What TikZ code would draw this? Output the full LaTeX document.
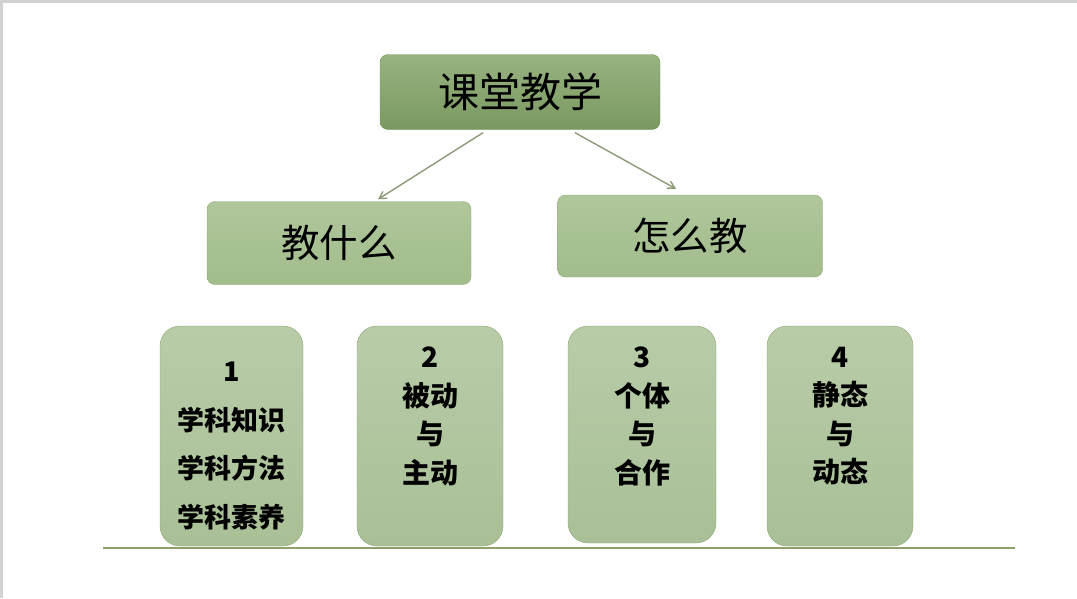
\documentclass[tikz,border=0pt]{standalone}
\usepackage{fontspec}
\newfontfamily\cjk{Noto Sans CJK SC}
\usetikzlibrary{arrows.meta,positioning,calc}

\definecolor{topgreen}{HTML}{86A56B}
\definecolor{topgreendark}{HTML}{7A9960}
\definecolor{midgreen}{HTML}{AFC79B}
\definecolor{midgreendark}{HTML}{A2BC8C}
\definecolor{lowgreen}{HTML}{B8CCA8}
\definecolor{lowgreendark}{HTML}{A9C096}
\definecolor{edgegreen}{HTML}{8FA878}
\definecolor{arrowgray}{HTML}{8C9A78}
\definecolor{basegreen}{HTML}{8E9E6C}

\begin{document}
\begin{tikzpicture}[x=1pt, y=-1pt, >={Straight Barb[length=7pt,width=8pt]},
    headbox/.style={draw=topgreendark, top color=topgreen!85!white, bottom color=topgreendark, rounded corners=8pt, minimum width=280pt, minimum height=75pt, font=\cjk\fontsize{41}{46}\selectfont},
    subbox/.style={draw=edgegreen, top color=midgreen, bottom color=midgreendark, rounded corners=8pt, minimum width=264pt, minimum height=83pt, font=\cjk\fontsize{38.5}{42}\selectfont},
    itembox/.style={draw=edgegreen, top color=lowgreen, bottom color=lowgreendark, rounded corners=20pt, minimum height=220pt},
    itemtext/.style={align=center, inner sep=0pt, font=\cjk\bfseries\fontsize{28}{38.5}\selectfont}]
    % page and frame
    \useasboundingbox (0,0) rectangle (1077,598);
    \fill[white] (0,0) rectangle (1077,598);
    \fill[gray!35] (0,0) rectangle (1077,2.5);
    \fill[gray!35] (0,0) rectangle (2.5,598);

    \node[headbox] (lesson) at (520,92) {课堂教学};
    \node[subbox] (what) at (339,243) {教什么};
    \node[subbox, minimum width=265pt, minimum height=82pt] (how) at (690,236) {怎么教};

    \draw[->, arrowgray, line width=1.4pt] ([xshift=-37pt,yshift=-3pt]lesson.south) -- ([xshift=39pt,yshift=2pt]what.north);
    \draw[->, arrowgray, line width=1.4pt] ([xshift=55pt,yshift=-3pt]lesson.south) -- ([xshift=-14pt,yshift=6pt]how.north);

    \node[itembox, minimum width=143pt] (knowbox) at (231.5,436) {};
    \node[itembox, minimum width=146pt] (rolebox) at (430,436) {};
    \node[itembox, minimum width=148pt, minimum height=217pt] (groupbox) at (642,434.5) {};
    \node[itembox, minimum width=146pt] (statebox) at (840,436) {};

    \node[itemtext, font=\cjk\bfseries\fontsize{27}{48.5}\selectfont, below=36pt of knowbox.north] (knowtext) {1\\学科知识\\学科方法\\学科素养};
    \node[itemtext, below=21pt of rolebox.north] (roletext) {2\\被动\\与\\主动};
    \node[itemtext, below=21pt of groupbox.north] (grouptext) {3\\个体\\与\\合作};
    \node[itemtext, below=21pt of statebox.north] (statetext) {4\\静态\\与\\动态};

    % base line
    \coordinate (baseL) at (103,548);
    \coordinate (baseR) at (1015,548);
    \draw[basegreen, line width=2pt] (baseL) -- (baseR);
\end{tikzpicture}
\end{document}
